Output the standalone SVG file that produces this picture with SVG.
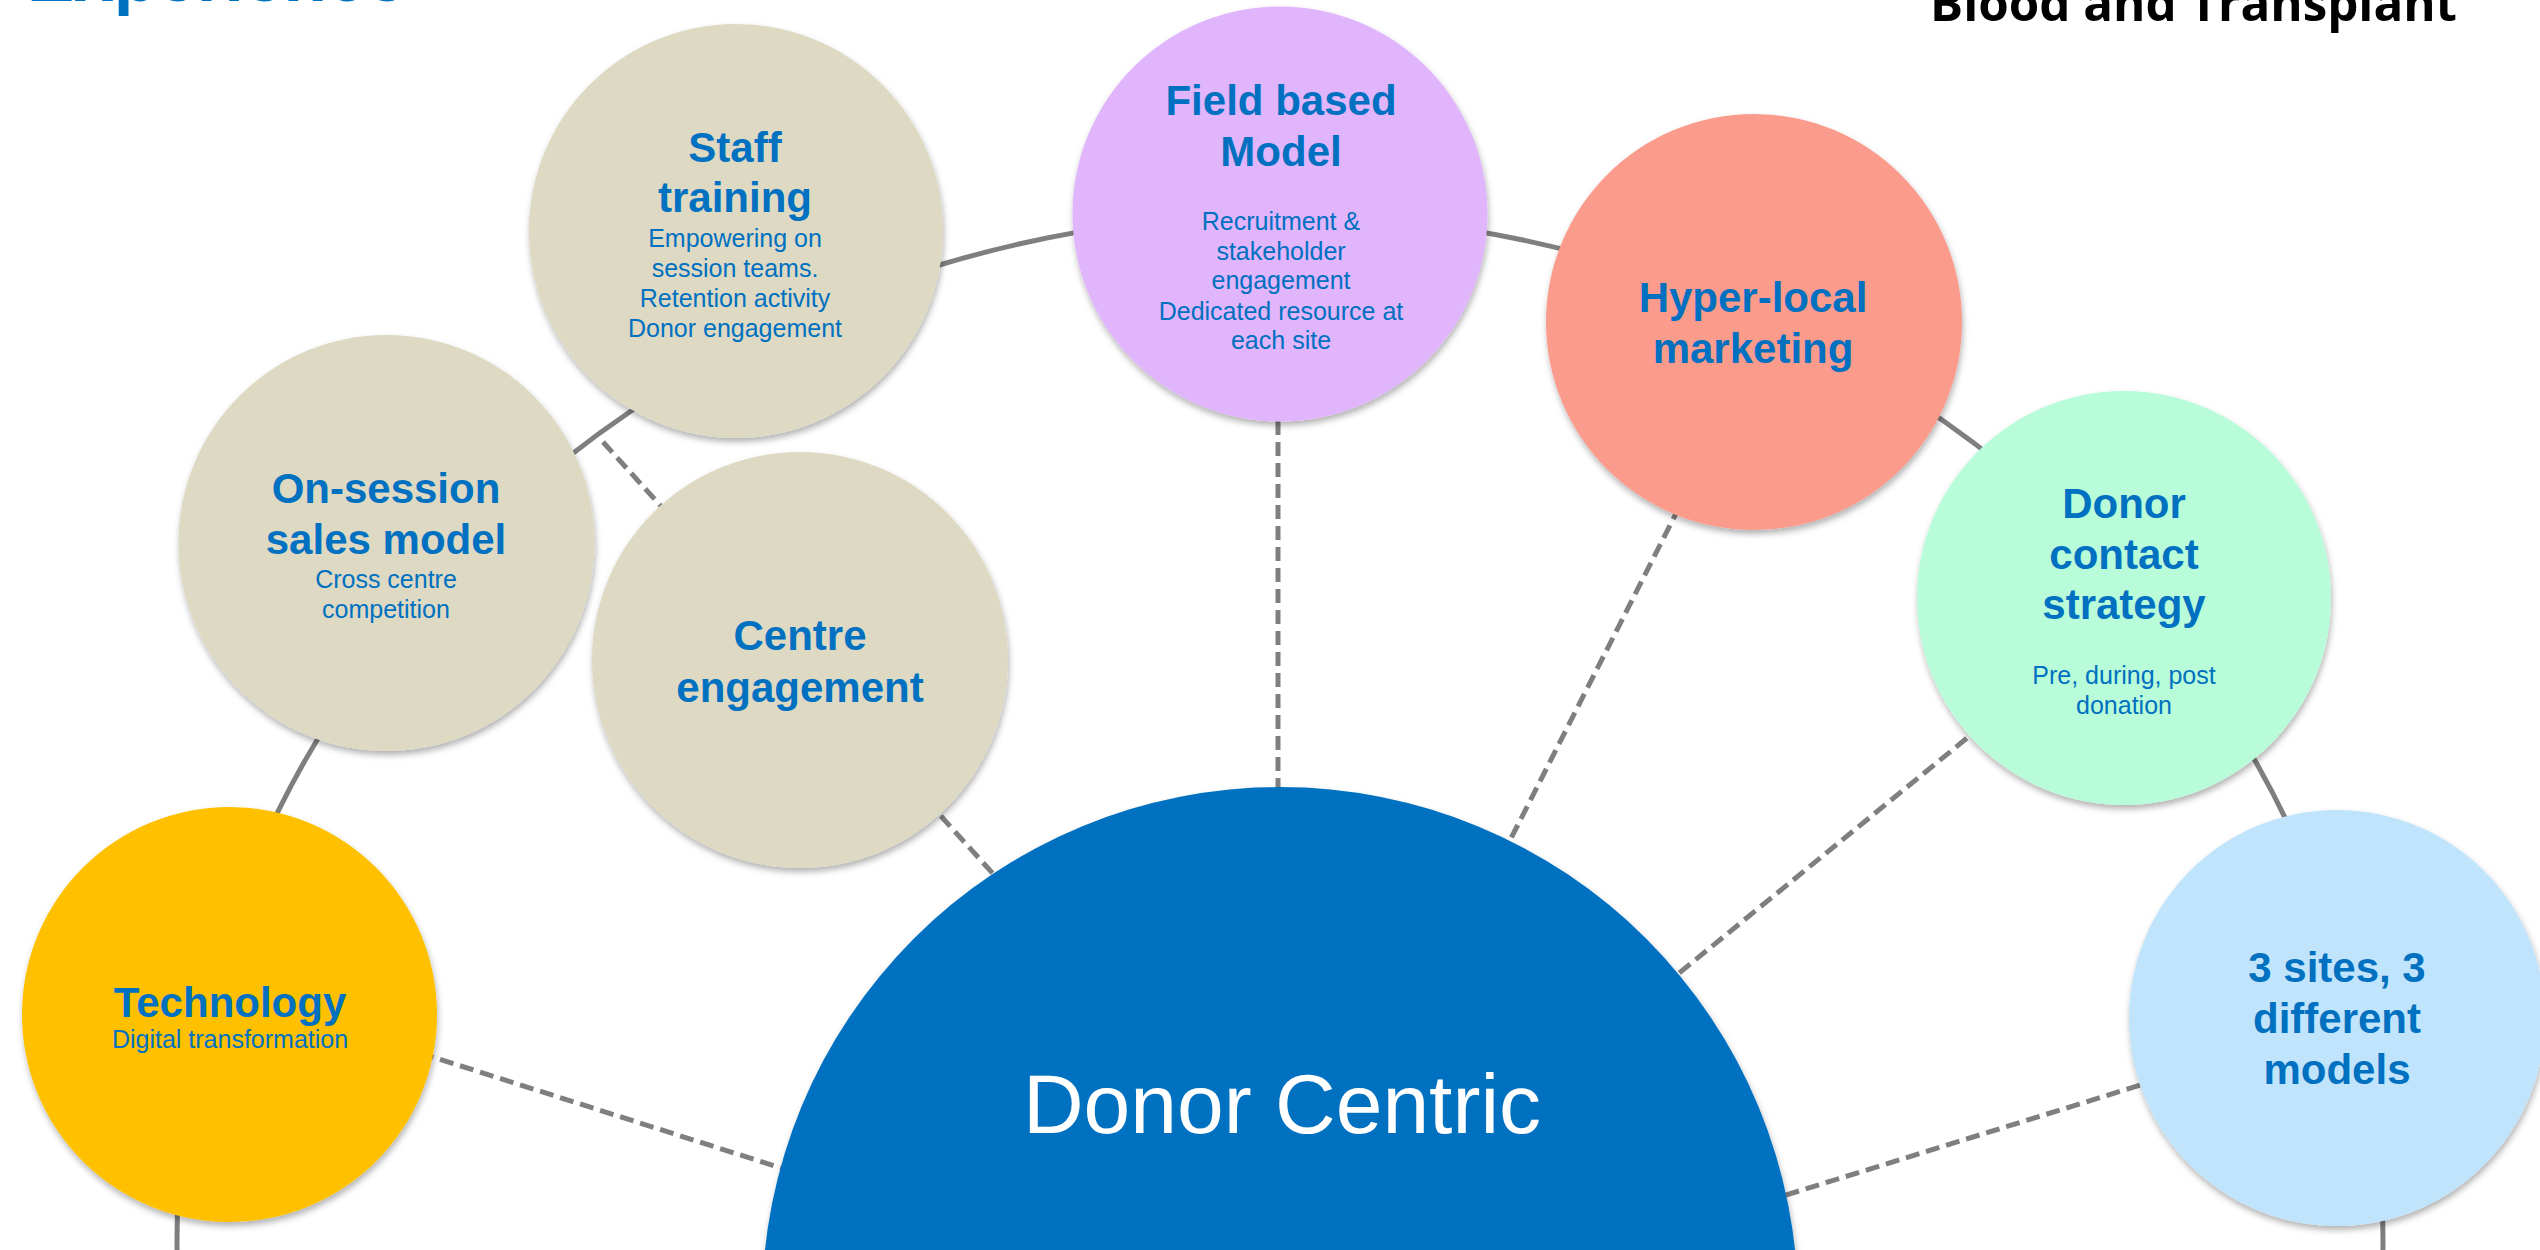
<svg xmlns="http://www.w3.org/2000/svg" width="2540" height="1250" viewBox="0 0 2540 1250">
<defs>
<filter id="sh" x="-10%" y="-10%" width="120%" height="125%">
<feDropShadow dx="1" dy="4" stdDeviation="3" flood-color="#000" flood-opacity="0.3"/>
</filter>
</defs>
<style>
.ring{fill:none;stroke:#7F7F7F;stroke-width:5}
.sp{fill:none;stroke:#7F7F7F;stroke-width:5;stroke-dasharray:14 7}
.n{filter:url(#sh)}
.h{font-family:"Liberation Sans",Arial,sans-serif;font-weight:bold;font-size:42px;fill:#0070C0;text-anchor:middle}
.s{font-family:"Liberation Sans",Arial,sans-serif;font-size:25px;fill:#0070C0;text-anchor:middle}
.tan{fill:#DDD9C3}
</style>
<rect width="2540" height="1250" fill="#FFFFFF"/>
<text x="27" y="1" font-family="Liberation Sans, Arial, sans-serif" font-weight="bold" font-size="71" fill="#0070C0">Experience</text>
<text x="1930" y="21" font-family="Open Sans, Liberation Sans, sans-serif" font-weight="bold" font-size="48" fill="#000000" textLength="527" lengthAdjust="spacingAndGlyphs">Blood and Transplant</text>
<g id="connectors">
<ellipse class="ring" cx="1280" cy="1240" rx="1103" ry="1025"/>
<line class="sp" x1="420" y1="1053" x2="800" y2="1174"/>
<line class="sp" x1="603" y1="442" x2="1005" y2="887"/>
<line class="sp" x1="1278" y1="400" x2="1278" y2="800"/>
<line class="sp" x1="1689" y1="488" x2="1500" y2="860"/>
<line class="sp" x1="1983" y1="725" x2="1667" y2="983"/>
<line class="sp" x1="2160" y1="1079" x2="1770" y2="1200"/>
</g>
<g id="staff-training">
<circle class="n tan" cx="736" cy="231" r="207"/>
<text class="h" x="735" y="162">Staff</text>
<text class="h" x="735" y="212">training</text>
<text class="s" x="735" y="247">Empowering on</text>
<text class="s" x="735" y="277">session teams.</text>
<text class="s" x="735" y="307">Retention activity</text>
<text class="s" x="735" y="337">Donor engagement</text>
</g>
<g id="field-based-model">
<circle class="n" cx="1280" cy="214" r="207.5" fill="#E0B5FC"/>
<text class="h" x="1281" y="115">Field based</text>
<text class="h" x="1281" y="166">Model</text>
<text class="s" x="1281" y="230">Recruitment &amp;</text>
<text class="s" x="1281" y="260">stakeholder</text>
<text class="s" x="1281" y="289">engagement</text>
<text class="s" x="1281" y="320">Dedicated resource at</text>
<text class="s" x="1281" y="349">each site</text>
</g>
<g id="hyper-local-marketing">
<circle class="n" cx="1754" cy="322" r="208" fill="#FA9B8C"/>
<text class="h" x="1753" y="312">Hyper-local</text>
<text class="h" x="1753" y="363">marketing</text>
</g>
<g id="donor-contact-strategy">
<circle class="n" cx="2124" cy="598" r="207" fill="#B9FCD9"/>
<text class="h" x="2124" y="518">Donor</text>
<text class="h" x="2124" y="569">contact</text>
<text class="h" x="2124" y="619">strategy</text>
<text class="s" x="2124" y="684">Pre, during, post</text>
<text class="s" x="2124" y="714">donation</text>
</g>
<g id="on-session-sales-model">
<circle class="n tan" cx="386.5" cy="543" r="208"/>
<text class="h" x="386" y="503">On-session</text>
<text class="h" x="386" y="554">sales model</text>
<text class="s" x="386" y="588">Cross centre</text>
<text class="s" x="386" y="618">competition</text>
</g>
<g id="centre-engagement">
<circle class="n tan" cx="800" cy="660" r="208"/>
<text class="h" x="800" y="650">Centre</text>
<text class="h" x="800" y="702">engagement</text>
</g>
<g id="technology">
<circle class="n" cx="229.5" cy="1014.5" r="207.5" fill="#FFC000"/>
<text class="h" x="230" y="1017">Technology</text>
<text class="s" x="230" y="1048">Digital transformation</text>
</g>
<g id="three-sites">
<circle class="n" cx="2337" cy="1018" r="208" fill="#C0E4FC"/>
<text class="h" x="2337" y="982">3 sites, 3</text>
<text class="h" x="2337" y="1033">different</text>
<text class="h" x="2337" y="1084">models</text>
</g>
<g id="donor-centric">
<circle class="n" cx="1280" cy="1305" r="518" fill="#0070C0"/>
<text x="1282" y="1133" font-family="Liberation Sans, Arial, sans-serif" font-size="84" fill="#FFFFFF" text-anchor="middle">Donor Centric</text>
</g>
</svg>
